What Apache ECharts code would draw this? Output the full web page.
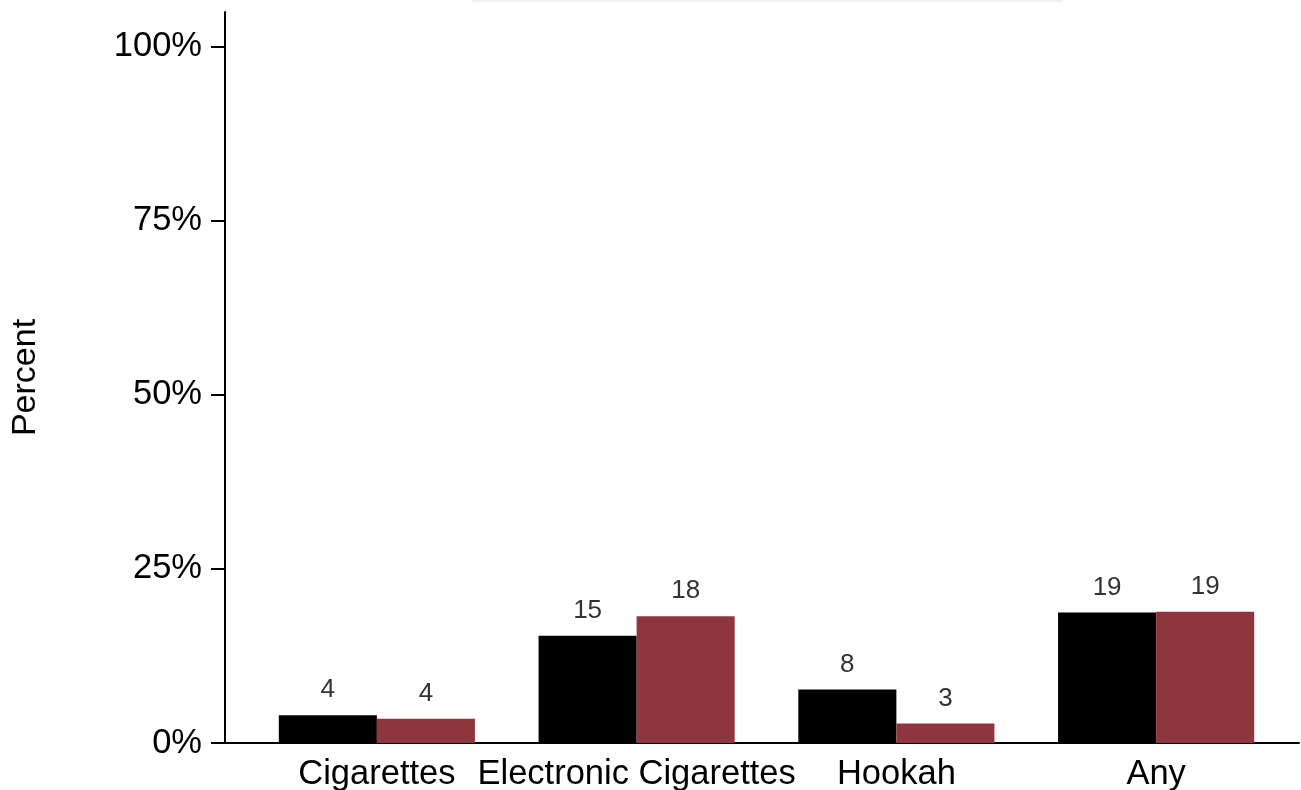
<!DOCTYPE html>
<html>
<head>
<meta charset="utf-8">
<script src="https://cdn.jsdelivr.net/npm/echarts@6/dist/echarts.min.js"></script>
<style>
html,body{margin:0;padding:0;background:#fff;}
#chart{width:1301px;height:790px;}
</style>
</head>
<body>
<div id="chart"></div>
<script>
const categories = ['Cigarettes', 'Electronic Cigarettes', 'Hookah', 'Any'];
const seriesNames = ['Group 1', 'Group 2'];
const valuesBlack = [4.0, 15.4, 7.7, 18.75];
const valuesRed = [3.5, 18.2, 2.8, 18.85];
const yTicks = [0, 25, 50, 75, 100];

const FONT = '"Liberation Sans", Arial, Helvetica, sans-serif';
const chart = echarts.init(document.getElementById('chart'), null, {renderer: 'canvas'});

const labelCfg = {
  show: true,
  position: 'top',
  distance: 12,
  fontSize: 26,
  fontFamily: FONT,
  color: '#333',
  formatter: p => Math.round(p.value).toString()
};

chart.setOption({
  animation: false,
  backgroundColor: '#fff',
  textStyle: {fontFamily: FONT},
  legend: {
    data: seriesNames,
    left: 472,
    top: -45,
    orient: 'horizontal',
    padding: [14, 190],
    itemGap: 20,
    itemWidth: 25,
    itemHeight: 18,
    borderColor: '#e4e4e4',
    borderWidth: 1,
    textStyle: {fontSize: 18, fontFamily: FONT}
  },
  grid: [
    {left: 225, right: 2, top: 12, bottom: 47, containLabel: false, outerBoundsMode: 'none'},
    {left: 247, right: 15, top: 12, bottom: 47, containLabel: false, outerBoundsMode: 'none'}
  ],
  xAxis: [
    {
      gridIndex: 0, type: 'value', min: 0, max: 1,
      axisLine: {show: true, lineStyle: {color: '#000', width: 2}},
      axisTick: {show: false}, axisLabel: {show: false}, splitLine: {show: false}
    },
    {
      gridIndex: 1, type: 'category', data: categories,
      axisLine: {show: false}, axisTick: {show: false},
      axisLabel: {fontSize: 34.5, color: '#000', fontFamily: FONT, margin: 14, interval: 0},
      splitLine: {show: false}
    }
  ],
  yAxis: [
    {
      gridIndex: 0, type: 'value', min: 0, max: 105, interval: 25,
      name: 'Percent', nameLocation: 'middle', nameGap: 182,
      nameTextStyle: {fontSize: 34, color: '#000', fontFamily: FONT},
      axisLine: {show: true, lineStyle: {color: '#000', width: 2}},
      axisTick: {show: true, length: 14, customValues: yTicks, lineStyle: {color: '#000', width: 2}},
      axisLabel: {fontSize: 34.5, color: '#000', fontFamily: FONT, margin: 23, customValues: yTicks,
        formatter: v => v + '%'},
      splitLine: {show: false}
    },
    {
      gridIndex: 1, type: 'value', min: 0, max: 105, show: false, splitLine: {show: false}
    }
  ],
  series: [
    {
      name: seriesNames[0], type: 'bar', xAxisIndex: 1, yAxisIndex: 1,
      data: valuesBlack, barGap: '0%', barCategoryGap: '24.5%',
      itemStyle: {color: '#000000'}, label: labelCfg
    },
    {
      name: seriesNames[1], type: 'bar', xAxisIndex: 1, yAxisIndex: 1,
      data: valuesRed, barGap: '0%', barCategoryGap: '24.5%',
      itemStyle: {color: '#8E353D'}, label: labelCfg
    }
  ]
});
</script>
</body>
</html>
